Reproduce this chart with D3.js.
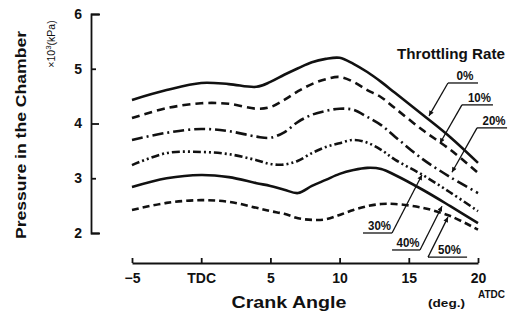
<!DOCTYPE html>
<html>
<head>
<meta charset="utf-8">
<script src="https://cdn.jsdelivr.net/npm/d3@7"></script>
<style>
body { margin: 0; background: #ffffff; }
svg { display: block; font-family: "Liberation Sans", Arial, sans-serif; font-weight: bold; }
</style>
</head>
<body>
<svg></svg>
<script>
const width = 514;
const height = 314;

// crank angle (deg) and chamber pressure (x10^3 kPa)
const crankAngles = [-5, -2.5, 0, 2, 4, 5, 6, 7, 8, 9, 10, 11, 12, 13, 14, 16, 18, 20];
const throttlingRates = ["0%", "10%", "20%", "30%", "40%", "50%"];
const pressure0 = [4.43, 4.61, 4.74, 4.72, 4.67, 4.76, 4.89, 5.01, 5.12, 5.18, 5.20, 5.09, 4.94, 4.76, 4.56, 4.16, 3.75, 3.28];
const pressure10 = [4.10, 4.28, 4.37, 4.36, 4.27, 4.30, 4.43, 4.59, 4.72, 4.81, 4.85, 4.76, 4.61, 4.48, 4.28, 3.88, 3.52, 3.10];
const pressure20 = [3.70, 3.83, 3.90, 3.86, 3.76, 3.74, 3.84, 4.03, 4.16, 4.23, 4.27, 4.25, 4.12, 3.97, 3.76, 3.35, 3.02, 2.73];
const pressure30 = [3.24, 3.46, 3.48, 3.44, 3.33, 3.26, 3.25, 3.32, 3.46, 3.57, 3.64, 3.70, 3.65, 3.52, 3.34, 3.06, 2.74, 2.40];
const pressure40 = [2.84, 3.00, 3.06, 3.02, 2.91, 2.86, 2.79, 2.73, 2.86, 2.97, 3.08, 3.15, 3.19, 3.17, 3.06, 2.79, 2.49, 2.18];
const pressure50 = [2.42, 2.55, 2.60, 2.57, 2.46, 2.40, 2.35, 2.27, 2.24, 2.25, 2.33, 2.42, 2.49, 2.53, 2.53, 2.46, 2.31, 2.06];
const pressureSeries = [pressure0, pressure10, pressure20, pressure30, pressure40, pressure50];

const xTicks = [-5, 0, 5, 10, 15, 20];
const xTickLabels = ["\u22125", "TDC", "5", "10", "15", "20"];
const yTicks = [2, 3, 4, 5, 6];
const yMajorTicks = [2, 4, 6];

// label callouts, in data units: underline from x1 to x2 at y, leader from end to tip
const calloutX1 = [17.83, 18.84, 19.93, 11.69, 13.79, 16.39];
const calloutX2 = [20.0, 21.08, 22.10, 13.79, 15.81, 19.21];
const calloutY = [4.74, 4.34, 3.92, 2.00, 1.69, 1.56];
const calloutFromRight = [false, false, false, true, true, false];
const tipX = [16.46, 17.25, 18.12, 15.95, 17.40, 17.83];
const tipY = [4.14, 3.64, 3.11, 3.06, 2.49, 2.29];

const lineDashes = ["none", "8,5", "11,4,2,4", "8,3,2,3,2,3", "none", "7,4"];

const x = d3.scaleLinear().domain([-5, 20]).range([132, 478]);
const y = d3.scaleLinear().domain([2, 6]).range([233, 14]);

const svg = d3.select("svg")
    .attr("width", width)
    .attr("height", height)
    .attr("viewBox", [0, 0, width, height]);

svg.append("rect")
    .attr("width", width)
    .attr("height", height)
    .attr("fill", "#ffffff");

const defs = svg.append("defs");
defs.append("marker")
    .attr("id", "arrow")
    .attr("viewBox", "0 0 10 10")
    .attr("refX", 10)
    .attr("refY", 5)
    .attr("markerWidth", 7)
    .attr("markerHeight", 5)
    .attr("markerUnits", "userSpaceOnUse")
    .attr("orient", "auto")
    .append("path")
    .attr("d", "M0,0L10,5L0,10Z")
    .attr("fill", "#111");

// y axis, ticks pointing inward
const yAxis = svg.append("g")
    .attr("transform", `translate(91,0)`)
    .call(d3.axisLeft(y)
        .tickValues(yTicks)
        .tickFormat(d3.format("d"))
        .tickSizeInner(-9)
        .tickSizeOuter(-9)
        .tickPadding(9));
yAxis.selectAll(".tick line")
    .attr("x2", d => yMajorTicks.includes(d) ? 8 : 5);
yAxis.selectAll("text")
    .attr("font-size", 14)
    .attr("font-family", null)
    .attr("fill", "#111");

// x axis, detached below the plot
const xAxis = svg.append("g")
    .attr("transform", `translate(0,263)`)
    .call(d3.axisBottom(x)
        .tickValues(xTicks)
        .tickFormat((d, i) => xTickLabels[i])
        .tickSizeInner(-5)
        .tickSizeOuter(0)
        .tickPadding(10));
xAxis.selectAll("text")
    .attr("font-size", 14)
    .attr("font-family", null)
    .attr("fill", "#111");

svg.selectAll(".domain, .tick line")
    .attr("stroke", "#111")
    .attr("stroke-width", 1.8);

// axis titles
svg.append("text")
    .attr("transform", "translate(26,135) rotate(-90)")
    .attr("text-anchor", "middle")
    .attr("font-size", 15)
    .attr("textLength", 208)
    .attr("lengthAdjust", "spacingAndGlyphs")
    .attr("fill", "#111")
    .text("Pressure in the Chamber");

const unitLabel = svg.append("text")
    .attr("transform", "translate(55,44) rotate(-90)")
    .attr("text-anchor", "middle")
    .attr("font-size", 10.5)
    .attr("font-weight", "normal")
    .attr("fill", "#111");
unitLabel.append("tspan").text("\u00d710");
unitLabel.append("tspan").attr("dy", -4).attr("font-size", 8).text("3");
unitLabel.append("tspan").attr("dy", 4).text("(kPa)");

svg.append("text")
    .attr("x", 289)
    .attr("y", 308)
    .attr("text-anchor", "middle")
    .attr("font-size", 16)
    .attr("textLength", 115)
    .attr("lengthAdjust", "spacingAndGlyphs")
    .attr("fill", "#111")
    .text("Crank  Angle");

svg.append("text")
    .attr("x", 428)
    .attr("y", 307)
    .attr("font-size", 11)
    .attr("textLength", 37)
    .attr("lengthAdjust", "spacingAndGlyphs")
    .attr("fill", "#111")
    .text("(deg.)");

svg.append("text")
    .attr("x", 478)
    .attr("y", 298)
    .attr("font-size", 10)
    .attr("textLength", 27)
    .attr("lengthAdjust", "spacingAndGlyphs")
    .attr("fill", "#111")
    .text("ATDC");

// pressure curves
const line = d3.line()
    .x((d, i) => x(crankAngles[i]))
    .y(d => y(d))
    .curve(d3.curveCatmullRom.alpha(0.5));

svg.selectAll("path.curve")
    .data(pressureSeries)
    .join("path")
    .classed("curve", true)
    .attr("d", line)
    .attr("fill", "none")
    .attr("stroke", "#111")
    .attr("stroke-width", 2.6)
    .attr("stroke-dasharray", (d, i) => lineDashes[i]);

// legend callouts
svg.append("text")
    .attr("x", 397)
    .attr("y", 59)
    .attr("font-size", 14)
    .attr("textLength", 108)
    .attr("lengthAdjust", "spacingAndGlyphs")
    .attr("fill", "#111")
    .text("Throttling  Rate");

const callouts = svg.selectAll("g.callout")
    .data(throttlingRates)
    .join("g")
    .classed("callout", true);

callouts.append("line")
    .attr("x1", (d, i) => x(calloutX1[i]))
    .attr("x2", (d, i) => x(calloutX2[i]))
    .attr("y1", (d, i) => y(calloutY[i]))
    .attr("y2", (d, i) => y(calloutY[i]))
    .attr("stroke", "#111")
    .attr("stroke-width", 1.3);

callouts.append("line")
    .attr("x1", (d, i) => x(calloutFromRight[i] ? calloutX2[i] : calloutX1[i]))
    .attr("y1", (d, i) => y(calloutY[i]))
    .attr("x2", (d, i) => x(tipX[i]))
    .attr("y2", (d, i) => y(tipY[i]))
    .attr("stroke", "#111")
    .attr("stroke-width", 1.3)
    .attr("marker-end", "url(#arrow)");

callouts.append("text")
    .attr("x", (d, i) => (x(calloutX1[i]) + x(calloutX2[i])) / 2 + 2)
    .attr("y", (d, i) => y(calloutY[i]) - 3)
    .attr("text-anchor", "middle")
    .attr("font-size", 13)
    .attr("textLength", d => d.length > 2 ? 23 : 17)
    .attr("lengthAdjust", "spacingAndGlyphs")
    .attr("fill", "#111")
    .text(d => d);
</script>
</body>
</html>
